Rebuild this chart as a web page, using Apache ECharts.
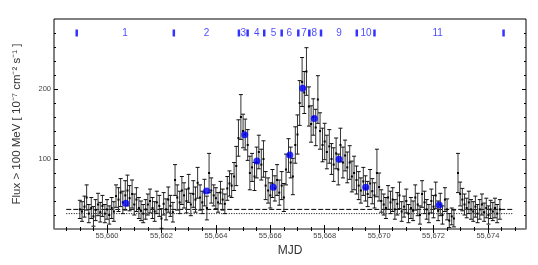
<!DOCTYPE html>
<html>
<head>
<meta charset="utf-8">
<script src="https://cdn.jsdelivr.net/npm/echarts@6/dist/echarts.min.js"></script>
<style>html,body{margin:0;padding:0;background:#fff}#c{width:538px;height:265px}</style>
</head>
<body>
<div id="c"></div>
<script>
const mjd = [55659.00,55659.08,55659.17,55659.25,55659.33,55659.42,55659.50,55659.58,55659.67,55659.75,55659.83,55659.92,
55660.00,55660.08,55660.17,55660.25,55660.33,55660.42,55660.50,55660.58,55660.67,55660.75,55660.83,55660.92,
55661.00,55661.08,55661.17,55661.25,55661.33,55661.42,55661.50,55661.58,55661.67,55661.75,55661.83,55661.92,
55662.00,55662.08,55662.17,55662.25,55662.33,55662.42,55662.50,55662.58,55662.67,55662.75,55662.83,55662.92,
55663.00,55663.08,55663.17,55663.25,55663.33,55663.42,55663.50,55663.58,55663.67,55663.75,55663.83,55663.92,
55664.00,55664.08,55664.17,55664.25,55664.33,55664.42,55664.50,55664.58,55664.67,55664.75,55664.83,55664.92,
55665.00,55665.08,55665.17,55665.25,55665.33,55665.42,55665.50,55665.58,55665.67,55665.75,55665.83,55665.92,
55666.00,55666.08,55666.17,55666.25,55666.33,55666.42,55666.50,55666.58,55666.67,55666.75,55666.83,55666.92,
55667.00,55667.08,55667.17,55667.25,55667.33,55667.42,55667.50,55667.58,55667.67,55667.75,55667.83,55667.92,
55668.00,55668.08,55668.17,55668.25,55668.33,55668.42,55668.50,55668.58,55668.67,55668.75,55668.83,55668.92,
55669.00,55669.08,55669.17,55669.25,55669.33,55669.42,55669.50,55669.58,55669.67,55669.75,55669.83,55669.92,
55670.00,55670.08,55670.17,55670.25,55670.33,55670.42,55670.50,55670.58,55670.67,55670.75,55670.83,55670.92,
55671.00,55671.08,55671.17,55671.25,55671.33,55671.42,55671.50,55671.58,55671.67,55671.75,55671.83,55671.92,
55672.00,55672.08,55672.17,55672.25,55672.33,55672.42,55672.50,55672.58,55672.67,55672.75,55672.90,55672.98,
55673.06,55673.14,55673.22,55673.30,55673.38,55673.46,55673.54,55673.62,55673.70,55673.78,55673.86,55673.94,
55674.02,55674.10,55674.18,55674.26,55674.34,55674.44];
const flux = [28,25,32,45,22,30,18,27,35,24,33,22,
28,20,30,25,47,42,52,38,48,55,44,50,
35,42,30,26,22,28,35,40,30,25,38,33,
15,36,28,42,33,24,70,45,38,55,48,40,
58,35,50,42,66,45,38,52,30,80,55,48,
44,38,52,42,36,58,65,62,75,90,130,160,
140,135,120,80,88,75,95,110,92,100,62,55,
48,65,58,70,52,62,45,85,105,95,75,120,
135,180,210,195,225,175,150,160,145,185,140,120,
125,110,118,100,92,108,85,120,95,105,88,95,
75,80,70,62,55,68,58,50,65,54,48,80,
60,40,35,30,45,38,42,28,36,48,25,32,
40,22,30,26,45,35,20,50,38,28,22,40,
32,48,26,35,20,42,28,12,18,15,80,50,
42,35,30,38,28,25,32,22,28,35,24,30,
20,28,25,30,22,28];
const err = [13,14,15,18,13,15,14,15,16,14,15,13,
14,13,15,14,16,17,20,16,21,22,18,20,
15,17,15,14,13,14,15,17,15,14,16,15,
14,16,15,18,15,14,22,18,16,20,18,17,
20,16,19,18,22,18,16,19,17,28,18,15,
15,14,16,15,14,17,18,17,20,28,26,32,
24,22,22,24,20,20,22,24,22,26,20,18,
18,20,18,22,18,20,20,22,24,22,26,26,
28,32,35,30,34,28,26,26,26,34,26,24,
26,24,24,22,24,22,22,24,22,22,22,24,
22,24,20,20,18,20,18,18,20,18,18,34,
20,16,15,15,17,16,17,14,16,19,14,15,
17,13,15,14,18,16,13,19,16,14,13,17,
16,19,14,16,13,17,15,10,12,12,28,17,
16,15,14,16,14,14,15,13,14,15,13,14,
13,13,13,14,13,14];

const periodMjd = [55660.69,55663.66,55665.06,55665.51,55666.11,55666.72,55667.19,55667.62,55668.53,55669.51,55672.21];
const periodFlux = [36.7,54.3,134.7,97,59.5,105.7,201,158,99.5,59.5,34.3];
const periodLabels = ['1','2','3','4','5','6','7','8','9','10','11'];
const labelMjd = [55660.66,55663.66,55665.01,55665.50,55666.12,55666.70,55667.24,55667.62,55668.53,55669.52,55672.15];
const boundaryMjd = [55658.885,55662.455,55664.847,55665.167,55665.778,55666.419,55667.03,55667.435,55667.865,55669.18,55669.83,55674.575];
const markerLevel = 280;
const baselineRange = [55658.5, 55674.9];
const dashedLevel = 28;
const dottedLevel = 22;
const xMajorTicks = [55658,55660,55662,55664,55666,55668,55670,55672,55674];
const xMinorTicks = [];
for (let v = 55658.5; v < 55675.4; v += 0.5) xMinorTicks.push(v);
const yMajorTicks = [100,200];
const yMinorTicks = [20,40,60,80,120,140,160,180,220,240,260,280];

const chart = echarts.init(document.getElementById('c'));
const XMIN = 55658.05, XMAX = 55675.4;
const font = 'Liberation Sans, Arial, sans-serif';
function xAx(pos, ticks, len, opts) {
  return Object.assign({
    type: 'value', min: XMIN, max: XMAX, position: pos,
    axisLine: { show: false },
    splitLine: { show: false },
    axisTick: { show: true, inside: true, length: len, customValues: ticks, lineStyle: { color: '#000', width: 1 } },
    axisLabel: { show: false }
  }, opts || {});
}
function yAx(pos, ticks, len, opts) {
  return Object.assign({
    type: 'value', min: 0, max: 300, position: pos,
    axisLine: { show: false },
    splitLine: { show: false },
    axisTick: { show: true, inside: true, length: len, customValues: ticks, lineStyle: { color: '#000', width: 1 } },
    axisLabel: { show: false }
  }, opts || {});
}

const option = {
  animation: false,
  backgroundColor: '#fff',
  grid: { left: 54, right: 12, top: 19, bottom: 36, show: true, borderColor: '#000', borderWidth: 1, backgroundColor: 'transparent' },
  xAxis: [
    xAx('bottom', xMajorTicks, 4, {
      axisLine: { show: true, onZero: false, lineStyle: { color: '#888', width: 1.5 } },
      axisLabel: { show: true, customValues: xMajorTicks.slice(1), fontSize: 7.5, color: '#444', fontFamily: font, margin: 3 },
      name: 'MJD', nameLocation: 'middle', nameGap: 15,
      nameTextStyle: { fontSize: 12, color: '#333', fontFamily: font }
    }),
    xAx('bottom', xMinorTicks, 2),
    xAx('top', xMajorTicks, 4),
    xAx('top', xMinorTicks, 2)
  ],
  yAxis: [
    yAx('left', yMajorTicks, 4, {
      axisLabel: { show: true, customValues: yMajorTicks, fontSize: 7.5, color: '#444', fontFamily: font, margin: 3 },
      name: 'Flux > 100 MeV [ 10⁻⁷ cm⁻² s⁻¹ ]', nameLocation: 'middle', nameGap: 31, nameRotate: 90,
      nameTextStyle: { fontSize: 11.5, color: '#333', fontFamily: font }
    }),
    yAx('left', yMinorTicks, 2),
    yAx('right', yMajorTicks, 4),
    yAx('right', yMinorTicks, 2)
  ],
  series: [
    {
      type: 'custom', xAxisIndex: 0, yAxisIndex: 0, clip: true,
      data: mjd.map((m, i) => [m, flux[i], err[i]]),
      renderItem: function (params, api) {
        const x = api.value(0), y = api.value(1), e = api.value(2);
        const lo = api.coord([x, y - e]);
        const hi = api.coord([x, y + e]);
        const c = api.coord([x, y]);
        const w = 2;
        const st = { stroke: '#111', lineWidth: 1 };
        return { type: 'group', children: [
          { type: 'line', shape: { x1: lo[0], y1: lo[1], x2: hi[0], y2: hi[1] }, style: { stroke: '#333', lineWidth: 1 } },
          { type: 'line', shape: { x1: lo[0] - w, y1: lo[1], x2: lo[0] + w, y2: lo[1] }, style: st },
          { type: 'line', shape: { x1: hi[0] - w, y1: hi[1], x2: hi[0] + w, y2: hi[1] }, style: st },
          { type: 'rect', shape: { x: c[0] - 1, y: c[1] - 1, width: 2, height: 2 }, style: { fill: '#000' } }
        ] };
      },
      z: 3
    },
    {
      type: 'line', data: baselineRange.map(v => [v, dashedLevel]), symbol: 'none',
      lineStyle: { color: '#000', width: 1, type: [5, 2] }, z: 2
    },
    {
      type: 'line', data: baselineRange.map(v => [v, dottedLevel]), symbol: 'none',
      lineStyle: { color: '#000', width: 1, type: [1, 1.5] }, z: 2
    },
    {
      type: 'scatter', data: periodMjd.map((m, i) => [m, periodFlux[i]]),
      symbol: 'circle', symbolSize: 7, itemStyle: { color: '#0000ff' }, z: 5
    },
    {
      type: 'scatter', data: boundaryMjd.map(m => [m, markerLevel]),
      symbol: 'rect', symbolSize: [2.5, 7], itemStyle: { color: '#0000ff' }, z: 5
    },
    {
      type: 'scatter', data: labelMjd.map((m, i) => ({ value: [m, markerLevel], name: periodLabels[i] })),
      symbolSize: 0,
      label: { show: true, position: 'inside', formatter: p => p.name, color: '#1a1aff', fontSize: 10, fontFamily: font },
      z: 5
    }
  ]
};
chart.setOption(option);
</script>
</body>
</html>
